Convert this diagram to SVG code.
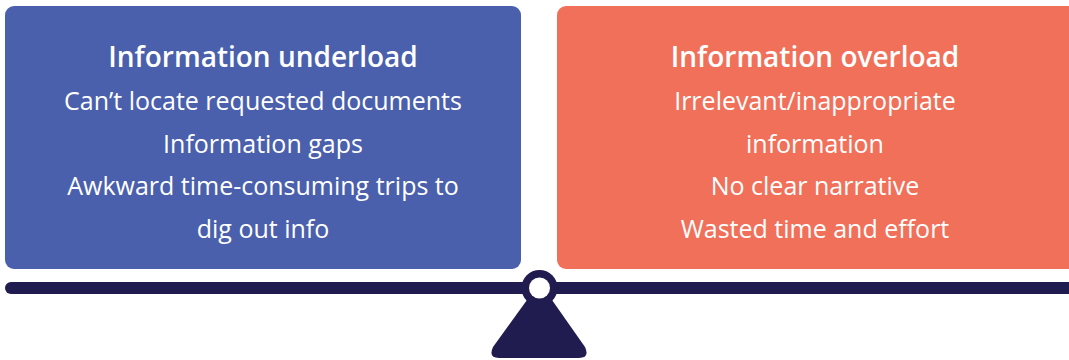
<svg xmlns="http://www.w3.org/2000/svg" width="1069" height="360" viewBox="0 0 1069 360">
  <style>
    .title { font-family: "Open Sans", "Liberation Sans", sans-serif; font-size: 28px; font-weight: 600; fill: #ffffff; text-anchor: middle; }
    .item { font-family: "Open Sans", "Liberation Sans", sans-serif; font-size: 25px; fill: #ffffff; text-anchor: middle; }
    .navy { fill: #201c4f; }
  </style>
  <rect width="1069" height="360" fill="#ffffff"/>
  <g id="underload">
    <rect x="5" y="6" width="516" height="263" rx="9" fill="#4a60ad"/>
    <text class="title" x="263" y="67">Information underload</text>
    <text class="item" x="263" y="110">Can’t locate requested documents</text>
    <text class="item" x="263" y="153">Information gaps</text>
    <text class="item" x="263" y="195">Awkward time-consuming trips to</text>
    <text class="item" x="263" y="238">dig out info</text>
  </g>
  <g id="overload">
    <rect x="557" y="6" width="530" height="263" rx="9" fill="#f1705a"/>
    <text class="title" x="815" y="67">Information overload</text>
    <text class="item" x="815" y="110">Irrelevant/inappropriate</text>
    <text class="item" x="815" y="153">information</text>
    <text class="item" x="815" y="195">No clear narrative</text>
    <text class="item" x="815" y="238">Wasted time and effort</text>
  </g>
  <g id="scale">
    <rect class="navy" x="5" y="282" width="1080" height="12" rx="6"/>
    <path class="navy" d="M527 300 L552 300 L585 347 Q590 358 579 358 L499 358 Q488 358 493 347 Z"/>
    <circle class="navy" cx="539.5" cy="288" r="18"/>
    <circle cx="539.5" cy="288" r="10.5" fill="#ffffff"/>
  </g>
</svg>
